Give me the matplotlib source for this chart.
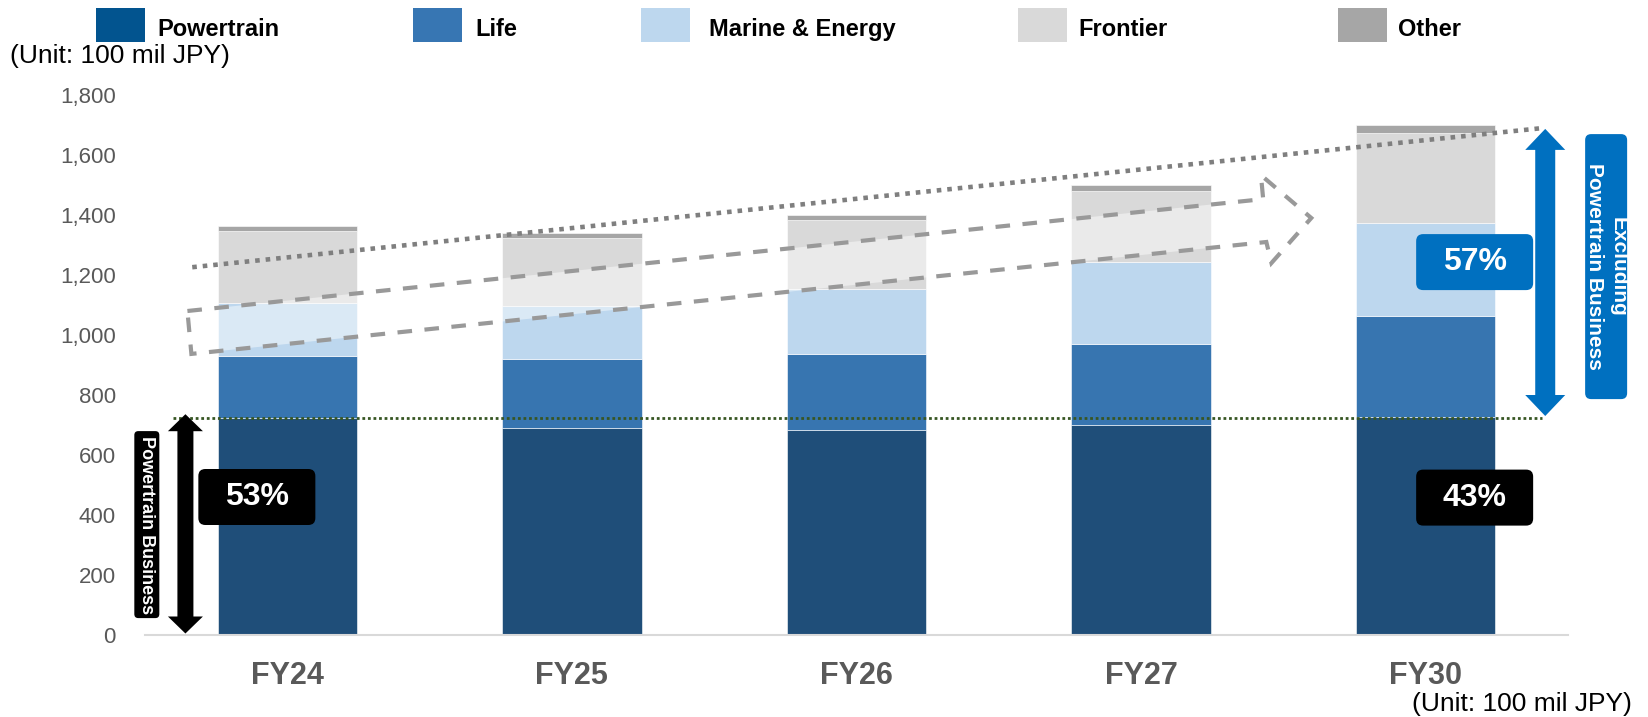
import matplotlib
matplotlib.use('Agg')
import matplotlib.pyplot as plt
from matplotlib.patches import Polygon, FancyBboxPatch, Rectangle
import numpy as np

plt.rcParams['font.family'] = ['Liberation Sans', 'DejaVu Sans']

# values (100 mil JPY)
years = ['FY24', 'FY25', 'FY26', 'FY27', 'FY30']
powertrain = [724, 691, 683, 701, 726]
life = [206, 228, 253, 270, 338]
marine = [178, 178, 217, 273, 310]
frontier = [239, 226, 230, 237, 300]
other = [16, 16, 16, 18, 25]

segments = ['Powertrain', 'Life', 'Marine & Energy', 'Frontier', 'Other']
bar_colors = ['#1F4E79', '#3775B0', '#BDD7EE', '#D9D9D9', '#A6A6A6']
legend_colors = ['#02548F', '#3776B3', '#BDD7EE', '#D9D9D9', '#A6A6A6']

W, H = 1648, 717
AX_L, AX_R, AX_T, AX_B = 145, 1568, 95, 635       # axes box in pixels
fig = plt.figure(figsize=(W / 100, H / 100), dpi=100)
ax = fig.add_axes([AX_L / W, (H - AX_B) / H, (AX_R - AX_L) / W, (AX_B - AX_T) / H])

XMIN, XMAX, YMAX = -0.5, 4.5, 1800
xpx = (AX_R - AX_L) / (XMAX - XMIN)    # pixels per category unit
ypx = (AX_B - AX_T) / YMAX              # pixels per value unit

x = np.arange(len(years))
bottom = np.zeros(len(years))
for vals, c in zip([powertrain, life, marine, frontier, other], bar_colors):
    ax.bar(x, vals, 0.49, bottom=bottom, color=c, edgecolor='white', linewidth=0.4, zorder=2)
    bottom += np.array(vals)

ax.set_xlim(XMIN, XMAX)
ax.set_ylim(0, YMAX)
ticks = list(range(0, 1801, 200))
ax.set_yticks(ticks)
ax.set_yticklabels([f'{t:,}' for t in ticks], fontsize=16, color='#595959')
ax.set_xticks(x)
ax.set_xticklabels(years, fontsize=22, fontweight='bold', color='#595959')
ax.tick_params(axis='y', length=0, pad=21)
ax.tick_params(axis='x', length=0, pad=18.5)
for s in ['top', 'right', 'left']:
    ax.spines[s].set_visible(False)
ax.spines['bottom'].set_color('#D9D9D9')
ax.spines['bottom'].set_linewidth(1.5)


def double_arrow(xc, y0, y1, shaft_px, head_px, head_len_px, color):
    s, h = shaft_px / xpx / 2, head_px / xpx / 2
    hl = head_len_px / ypx
    pts = [(xc, y1), (xc + h, y1 - hl), (xc + s, y1 - hl), (xc + s, y0 + hl),
           (xc + h, y0 + hl), (xc, y0), (xc - h, y0 + hl), (xc - s, y0 + hl),
           (xc - s, y1 - hl), (xc - h, y1 - hl)]
    ax.add_patch(Polygon(pts, closed=True, facecolor=color, edgecolor='none',
                         zorder=5, clip_on=False))


def tag(xc, yc, w_px, h_px, r_px, color, text, size, rot=0, ls=1.2):
    w, h = w_px / xpx, h_px / ypx
    ax.add_patch(FancyBboxPatch((xc - w / 2, yc - h / 2), w, h,
                                boxstyle=f'round,pad=0,rounding_size={r_px / xpx}',
                                mutation_aspect=xpx / ypx, facecolor=color,
                                edgecolor='none', zorder=6, clip_on=False))
    ax.text(xc, yc, text, color='white', fontsize=size, fontweight='bold', rotation=rot,
            ha='center', va='center', rotation_mode='anchor', multialignment='center',
            linespacing=ls, zorder=7, clip_on=False)


# translucent dashed growth arrow
arrow_pts = [(-0.351, 1080), (3.429, 1453), (3.421, 1533), (3.598, 1390),
             (3.458, 1240), (3.440, 1310), (-0.337, 937)]
ax.add_patch(Polygon(arrow_pts, closed=True, facecolor=(1, 1, 1, 0.45), edgecolor='none', zorder=3))
ax.add_patch(Polygon(arrow_pts, closed=True, facecolor='none', edgecolor='#999999',
                     linewidth=3, linestyle=(0, (3.5, 3)), zorder=4))

# trend line over the totals
ax.plot([-0.334, 4.413], [1226, 1690], color='#7F7F7F', linewidth=3.3,
        linestyle=(0, (1, 1.3)), zorder=4)

# powertrain level line
ax.plot([-0.403, 4.409], [725, 725], color='#375623', linewidth=2.0,
        linestyle=(0, (1, 1)), zorder=4, clip_on=False)

double_arrow(-0.358, 5, 736, 16, 35, 17, 'black')
double_arrow(4.420, 730, 1687, 20, 40, 21, '#0070C0')

tag(-0.107, 460, 117, 56, 7, 'black', '53%', 23)
tag(4.172, 458, 117, 56, 7, 'black', '43%', 23)
tag(4.172, 1243, 117, 56, 7, '#0070C0', '57%', 23)
tag(-0.4936, 368, 25, 187, 4, 'black', 'Powertrain Business', 13, rot=-90)
tag(4.634, 1228, 42, 265, 6, '#0070C0', 'Excluding\nPowertrain Business', 15, rot=-90, ls=1.3)

# legend row
sq_left = [96, 413, 641, 1018, 1338]
txt_left = [157, 475, 709, 1078, 1398]
for name, c, sx, tx in zip(segments, legend_colors, sq_left, txt_left):
    fig.patches.append(Rectangle((sx / W, 1 - 42 / H), 49 / W, 34 / H, facecolor=c,
                                 edgecolor='none', transform=fig.transFigure))
    fig.text(tx / W, 1 - 36 / H, name, fontsize=17, fontweight='bold', va='baseline')

fig.text(10 / W, 1 - 63 / H, '(Unit: 100 mil JPY)', fontsize=19, va='baseline')
fig.text(1632 / W, 1 - 711 / H, '(Unit: 100 mil JPY)', fontsize=19, va='baseline', ha='right')

fig.savefig('out.png', dpi=100)
